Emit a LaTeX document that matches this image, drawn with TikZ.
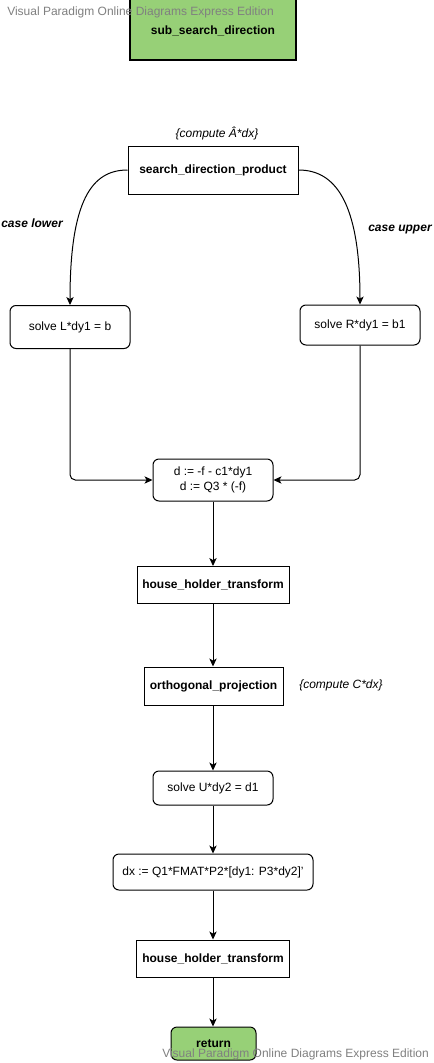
\documentclass[tikz,border=0pt]{standalone}
\usepackage{fontspec}
\setmainfont{Liberation Sans}
\usetikzlibrary{arrows.meta}
\definecolor{vpgreen}{HTML}{97D077}
\definecolor{wmgray}{HTML}{808080}
\begin{document}
\begin{tikzpicture}[x=0.75pt,y=-0.75pt,
  font=\fontsize{9}{11}\selectfont,
  box/.style={draw, line width=0.75pt, inner sep=0pt, align=center},
  rbox/.style={box, rounded corners=4.5pt},
  conn/.style={line width=0.75pt, -{Stealth[length=6pt,width=5.5pt,inset=1.6pt]}},
  lbl/.style={inner sep=0pt, font=\fontsize{9}{11}\selectfont\itshape},
  blbl/.style={inner sep=0pt, font=\fontsize{9}{11}\selectfont\bfseries\itshape},
  wmark/.style={inner sep=0pt, text=wmgray, font=\fontsize{9}{11}\selectfont}]
\clip (0,0) rectangle (434,1063);
\fill[white] (0,0) rectangle (434,1063);
% nodes
\node[box, line width=1pt, fill=vpgreen, minimum width={166*0.75pt}, minimum height={62*0.75pt}] (start) at (213,29) {};
\node[inner sep=0pt, font=\fontsize{9}{11}\selectfont\bfseries] (starttext) at (213,31) {sub\_search\_direction};
\node[lbl] (clabel1) at (217,133) {\{compute Â*dx\}};
\node[box, minimum width={170*0.75pt}, minimum height={48*0.75pt}, font=\fontsize{9}{11}\selectfont\bfseries] (spd) at (213,170) {search\_direction\_product};
\node[blbl] (caselow) at (32,223) {case lower};
\node[blbl] (caseup) at (400,230) {case upper};
\node[rbox, minimum width={120*0.75pt}, minimum height={43*0.75pt}] (sl) at (70,327) {solve L*dy1 = b};
\node[rbox, minimum width={120*0.75pt}, minimum height={40*0.75pt}] (sr) at (360,325) {solve R*dy1 = b1};
\node[rbox, minimum width={120*0.75pt}, minimum height={42*0.75pt}] (d) at (213,480) {d := -f - c1*dy1\\d := Q3 * (-f)};
\node[box, minimum width={152*0.75pt}, minimum height={37*0.75pt}, font=\fontsize{9}{11}\selectfont\bfseries] (hh1) at (213,585) {house\_holder\_transform};
\node[box, minimum width={139*0.75pt}, minimum height={38*0.75pt}, font=\fontsize{9}{11}\selectfont\bfseries] (op) at (213.5,686) {orthogonal\_projection};
\node[lbl] (clabel2) at (341,685) {\{compute C*dx\}};
\node[rbox, minimum width={120*0.75pt}, minimum height={34*0.75pt}] (su) at (213,788) {solve U*dy2 = d1};
\node[rbox, minimum width={200*0.75pt}, minimum height={36*0.75pt}] (dx) at (213,872) {dx := Q1*FMAT*P2*[dy1: P3*dy2]'};
\node[box, minimum width={153*0.75pt}, minimum height={37*0.75pt}, font=\fontsize{9}{11}\selectfont\bfseries] (hh2) at (213,958.5) {house\_holder\_transform};
\node[rbox, fill=vpgreen, minimum width={85*0.75pt}, minimum height={33*0.75pt}] (ret) at (213.5,1043.5) {};
\node[inner sep=0pt, font=\fontsize{9}{11}\selectfont\bfseries] (rettext) at (213.5,1044) {return};
% connectors
\draw[conn] (spd.west) .. controls (92,170) and (70,200) .. (sl.north);
\draw[conn] (spd.east) .. controls (334,170) and (360,200) .. (sr.north);
\draw[conn, rounded corners=4pt] (sl.south) |- (d.west);
\draw[conn, rounded corners=4pt] (sr.south) |- (d.east);
\draw[conn] (d.south) -- (hh1.north);
\draw[conn] (hh1.south) -- (op.north -| hh1.south);
\draw[conn] (op.south -| hh1.south) -- (su.north);
\draw[conn] (su.south) -- (dx.north);
\draw[conn] (dx.south) -- (hh2.north);
\draw[conn] (hh2.south) -- (ret.north -| hh2.south);
% watermarks
\node[wmark, anchor=base west] (wm1) at (7,16) {Visual Paradigm Online Diagrams Express Edition};
\node[wmark, anchor=base west] (wm2) at (162,1057) {Visual Paradigm Online Diagrams Express Edition};
\end{tikzpicture}
\end{document}
